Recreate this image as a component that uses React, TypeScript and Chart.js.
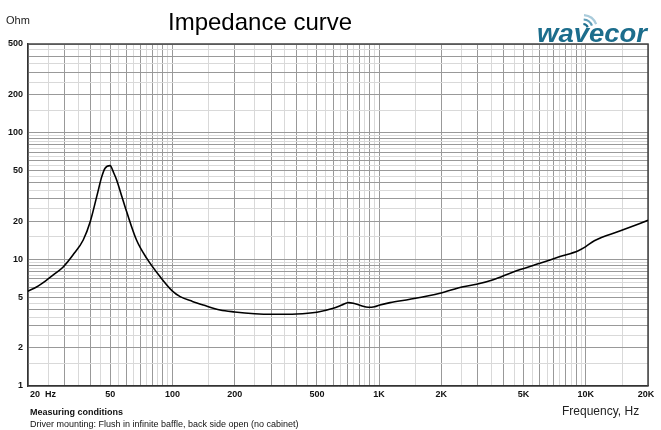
import { useEffect, useRef } from 'react';
import { Chart, registerables } from 'chart.js';

Chart.register(...registerables);

const FREQ_HZ = [
  20, 22, 24.6, 27, 29.6, 33, 37, 40, 43, 45.5, 47.2, 49.9, 52, 53.7, 57, 60, 67, 75, 87,
  100, 109, 125, 141, 170, 200, 250, 300, 400, 500, 600, 660, 710, 750, 820, 885, 950,
  1010, 1130, 1410, 1970, 2550, 2960, 3565, 4460, 6000, 7500, 9200, 10000, 11000, 14600, 20000,
];
const IMPEDANCE_OHM = [
  5.6, 6.05, 6.85, 7.7, 8.7, 10.8, 14.2, 19.8, 31.2, 44.9, 52.3, 54.8, 48, 42.3, 31, 23.8, 14.2, 10.2, 7.3,
  5.6, 5.07, 4.65, 4.36, 3.98, 3.84, 3.72, 3.68, 3.7, 3.82, 4.1, 4.35, 4.55, 4.5, 4.3, 4.18, 4.22,
  4.36, 4.55, 4.83, 5.39, 6.08, 6.35, 6.9, 7.95, 9.3, 10.5, 11.7, 12.6, 14.0, 16.7, 20.3,
];

const X_TICK_VALUES = [20, 50, 100, 200, 500, 1000, 2000, 5000, 10000, 20000];
const X_TICK_LABELS = ['20  Hz', '50', '100', '200', '500', '1K', '2K', '5K', '10K', '20K'];
const Y_TICK_VALUES = [1, 2, 5, 10, 20, 50, 100, 200, 500];
const Y_TICK_LABELS = ['1', '2', '5', '10', '20', '50', '100', '200', '500'];

const X_MIN = 20;
const X_MAX = 20000;
const Y_MIN = 1;
const Y_MAX = 500;

const FONT = '"Liberation Sans", Arial, sans-serif';

function gridValues(decades: number[], min: number, max: number) {
  const out: number[] = [];
  for (const p of decades) {
    for (let k = 2; k <= 20; k++) {
      const v = Math.round(p * k * 1000) / 2000;
      if (v >= min && v <= max && !out.includes(v)) out.push(v);
    }
  }
  return out.sort((a, b) => a - b);
}

function isMajor(v: number) {
  const p = Math.pow(10, Math.floor(Math.log10(v) + 1e-9));
  const r = v / p;
  return Math.abs(r - Math.round(r)) < 1e-6;
}

const X_GRID = gridValues([10, 100, 1000, 10000], X_MIN, X_MAX);
const Y_GRID = gridValues([1, 10, 100], Y_MIN, Y_MAX);

const DARK = '#999999';
const LIGHT = '#d9d9d9';

const textPlugin = {
  id: 'texts',
  beforeDatasetsDraw(chart: any) {
    const { ctx, chartArea } = chart;
    ctx.save();
    ctx.strokeStyle = '#444';
    ctx.lineWidth = 1.5;
    ctx.beginPath();
    ctx.moveTo(chartArea.left, chartArea.top);
    ctx.lineTo(chartArea.right, chartArea.top);
    ctx.lineTo(chartArea.right, chartArea.bottom);
    ctx.stroke();
    ctx.restore();
  },
  afterDraw(chart: any) {
    const { ctx } = chart;
    const xs = chart.scales.x;
    const ys = chart.scales.y;
    ctx.save();
    ctx.fillStyle = '#111';
    ctx.font = `bold 9px ${FONT}`;
    ctx.textBaseline = 'middle';
    ctx.textAlign = 'right';
    Y_TICK_VALUES.forEach((v, i) => {
      ctx.fillText(Y_TICK_LABELS[i], 23, ys.getPixelForValue(v));
    });
    X_TICK_VALUES.forEach((v, i) => {
      const px = xs.getPixelForValue(v);
      if (i === 0) {
        ctx.textAlign = 'left';
        ctx.fillText(X_TICK_LABELS[i], px + 2, 395);
      } else if (i === X_TICK_VALUES.length - 1) {
        ctx.textAlign = 'center';
        ctx.fillText(X_TICK_LABELS[i], px - 2, 395);
      } else {
        ctx.textAlign = 'center';
        ctx.fillText(X_TICK_LABELS[i], px, 395);
      }
    });

    ctx.textBaseline = 'alphabetic';
    ctx.textAlign = 'left';
    ctx.fillStyle = '#222';
    ctx.font = `11px ${FONT}`;
    ctx.fillText('Ohm', 6, 24);

    ctx.fillStyle = '#000';
    ctx.font = `24px ${FONT}`;
    ctx.fillText('Impedance curve', 168, 30);

    ctx.font = `bold 9px ${FONT}`;
    ctx.fillStyle = '#111';
    ctx.fillText('Measuring conditions', 30, 415);
    ctx.font = `9px ${FONT}`;
    ctx.fillText('Driver mounting: Flush in infinite baffle, back side open (no cabinet)', 30, 427);

    ctx.font = `12px ${FONT}`;
    ctx.fillStyle = '#222';
    ctx.fillText('Frequency, Hz', 562, 415);

    // logo
    ctx.save();
    ctx.font = `italic bold 26px ${FONT}`;
    const w = ctx.measureText('wavecor').width;
    ctx.translate(537, 42);
    ctx.scale(110 / w, 1);
    ctx.fillStyle = '#1c6d8c';
    ctx.fillText('wavecor', 0, 0);
    ctx.restore();
    const arcs = [
      { r: 5, c: '#1c6d8c' },
      { r: 9.5, c: '#5f9db8' },
      { r: 14, c: '#a9cbdb' },
    ];
    arcs.forEach((a) => {
      ctx.beginPath();
      ctx.strokeStyle = a.c;
      ctx.lineWidth = 2.2;
      ctx.arc(583, 29, a.r, -1.5, -0.35);
      ctx.stroke();
    });
    ctx.restore();
  },
};

export default function App() {
  const ref = useRef<HTMLCanvasElement | null>(null);
  useEffect(() => {
    document.body.style.margin = '0';
    const canvas = ref.current!;
    const chart = new Chart(canvas, {
      type: 'line',
      data: {
        datasets: [
          {
            data: FREQ_HZ.map((f, i) => ({ x: f, y: IMPEDANCE_OHM[i] })),
            borderColor: '#000',
            borderWidth: 1.6,
            pointRadius: 0,
            cubicInterpolationMode: 'monotone',
            fill: false,
          },
        ],
      },
      options: {
        animation: false,
        responsive: false,
        maintainAspectRatio: false,
        devicePixelRatio: 1,
        layout: { padding: { top: 44, right: 13, left: 0, bottom: 0 } },
        plugins: { legend: { display: false }, tooltip: { enabled: false }, title: { display: false } },
        scales: {
          x: {
            type: 'logarithmic',
            min: X_MIN,
            max: X_MAX,
            afterBuildTicks: (s: any) => {
              s.ticks = X_GRID.map((v) => ({ value: v }));
            },
            afterFit: (s: any) => {
              s.height = 44;
            },
            ticks: { display: false, autoSkip: false },
            grid: {
              drawTicks: false,
              lineWidth: 1,
              color: (c: any) => (c.tick && isMajor(c.tick.value) ? DARK : LIGHT),
            },
            border: { display: true, color: '#333', width: 1.5 },
          },
          y: {
            type: 'logarithmic',
            min: Y_MIN,
            max: Y_MAX,
            afterBuildTicks: (s: any) => {
              s.ticks = Y_GRID.map((v) => ({ value: v }));
            },
            afterFit: (s: any) => {
              s.width = 28;
            },
            ticks: { display: false, autoSkip: false },
            grid: {
              drawTicks: false,
              lineWidth: 1,
              color: (c: any) => (c.tick && isMajor(c.tick.value) ? DARK : LIGHT),
            },
            border: { display: true, color: '#333', width: 1.5 },
          },
        },
      },
      plugins: [textPlugin],
    });
    return () => chart.destroy();
  }, []);
  return (
    <div style={{ position: 'absolute', left: 0, top: 0, width: 661, height: 430, background: '#fff' }}>
      <canvas ref={ref} width={661} height={430} style={{ width: 661, height: 430, display: 'block' }} />
    </div>
  );
}
